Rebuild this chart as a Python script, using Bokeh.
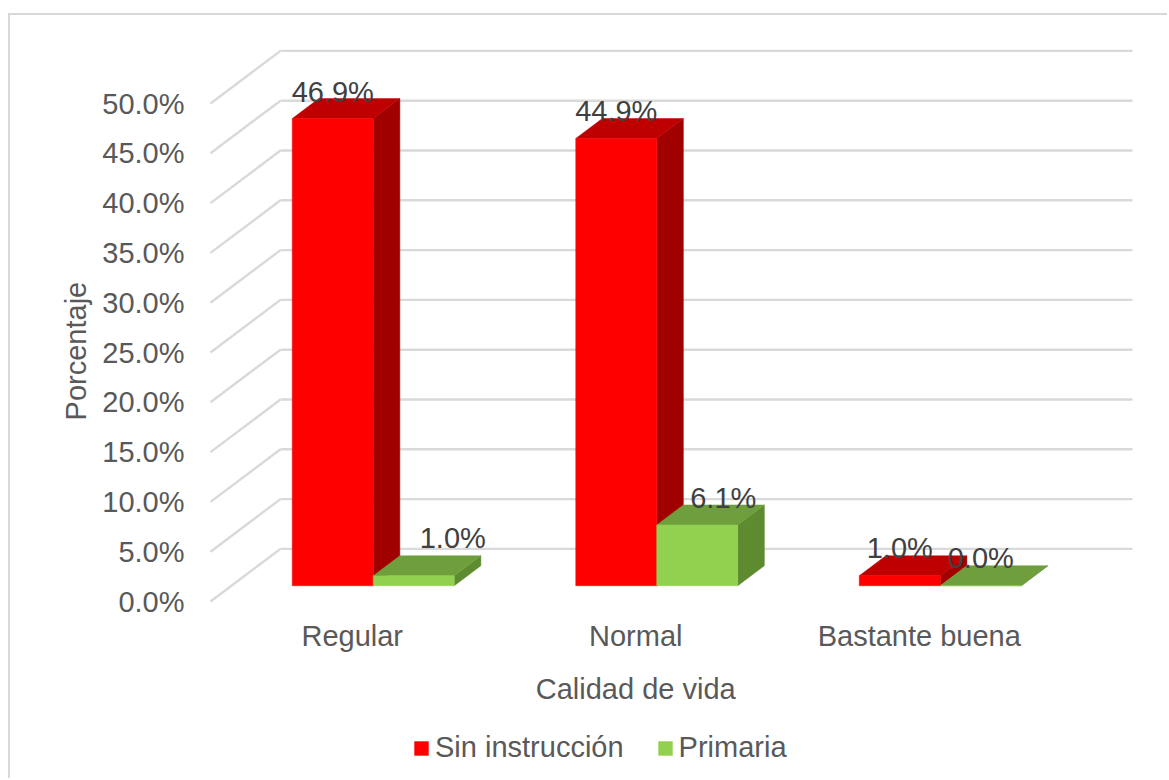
import math

from bokeh.core.properties import value
from bokeh.embed import file_html
from bokeh.layouts import column
from bokeh.models import (FixedTicker, Legend, LegendItem, LinearAxis,
                          PrintfTickFormatter, Range1d)
from bokeh.plotting import figure
from bokeh.resources import INLINE

# Values in percent, per quality-of-life category
categories = ["Regular", "Normal", "Bastante buena"]
series_names = ["Sin instrucción", "Primaria"]
sin_instruccion = [46.9, 44.9, 1.0]
primaria = [1.0, 6.1, 0.0]
y_ticks = [0, 5, 10, 15, 20, 25, 30, 35, 40, 45, 50]

FONT = "Liberation Sans"
SIZE = "29px"
GREY = "#595959"
LABEL_GREY = "#404040"
GRID = "#D9D9D9"
RED = "#FF0000"
GREEN = "#92D050"

# Scale of the plot, in pixels per unit
PX_CAT = 283.5
PX_PCT = 9.96

# Oblique projection: the depth axis runs up and to the right
WALL_DX, WALL_DY = 70 / PX_CAT, 52.6 / PX_PCT
BAR_WIDTH = 81 / PX_CAT
BAR_NEAR = 0.30
BAR_FAR = 0.68


def shift(depth):
    return WALL_DX * depth, WALL_DY * depth


def draw_series(p, values, left_of_centre, front, top, side):
    """Draw one series as oblique boxes; returns bar lefts and top heights."""
    nx, ny = shift(BAR_NEAR)
    fx, fy = shift(BAR_FAR)
    lefts = [i + 0.5 + nx + left_of_centre * BAR_WIDTH for i in range(len(values))]
    rights = [l + BAR_WIDTH for l in lefts]
    tops = [v + ny for v in values]
    bottoms = [ny] * len(values)
    ddx, ddy = fx - nx, fy - ny
    p.patches([[r, r + ddx, r + ddx, r] for r in rights],
              [[b, b + ddy, t + ddy, t] for b, t in zip(bottoms, tops)],
              fill_color=side, line_color=side, line_width=0.5)
    p.patches([[l, r, r + ddx, l + ddx] for l, r in zip(lefts, rights)],
              [[t, t, t + ddy, t + ddy] for t in tops],
              fill_color=top, line_color=top, line_width=0.5)
    p.quad(left=lefts, right=rights, bottom=bottoms, top=tops,
           fill_color=front, line_color=front, line_width=0.5)
    return lefts, tops


def style_axis(axis, standoff):
    axis.axis_line_color = None
    axis.major_tick_line_color = None
    axis.minor_tick_line_color = None
    axis.major_label_standoff = standoff
    axis.major_label_text_font = FONT
    axis.major_label_text_font_size = SIZE
    axis.major_label_text_color = GREY


p = figure(width=1159, height=700, frame_width=935, frame_height=572,
           output_backend="svg", toolbar_location=None,
           x_range=Range1d(-10 / PX_CAT, 925 / PX_CAT),
           y_range=Range1d(-11 / PX_PCT, 561 / PX_PCT),
           min_border_left=190, min_border_right=34, min_border_top=25, min_border_bottom=103,
           background_fill_color="white", border_fill_color="white",
           outline_line_color=None, margin=0)
p.xgrid.visible = False
p.ygrid.visible = False

# Value axis
p.yaxis.ticker = FixedTicker(ticks=y_ticks)
p.yaxis.formatter = PrintfTickFormatter(format="%.1f%%")
style_axis(p.yaxis[0], 10)

# Category axis
p.xaxis.ticker = FixedTicker(ticks=[i + 0.5 for i in range(len(categories))])
p.xaxis.major_label_overrides = {i + 0.5: c for i, c in enumerate(categories)}
style_axis(p.xaxis[0], 1)

# Axis titles, carried by outer axes with a single tick
title_x = 1.5
x_title = LinearAxis(ticker=FixedTicker(ticks=[title_x]),
                     major_label_overrides={title_x: "Calidad de vida"})
style_axis(x_title, 12)
p.add_layout(x_title, "below")

title_y = 32.1
y_title = LinearAxis(ticker=FixedTicker(ticks=[title_y]),
                     major_label_overrides={title_y: "Porcentaje"},
                     major_label_orientation=math.pi / 2)
style_axis(y_title, 17)
p.add_layout(y_title, "left")

# Wall gridlines: side wall diagonals, then the back wall
wall_right = 922 / PX_CAT
p.multi_line([[0, WALL_DX] for _ in y_ticks], [[t, t + WALL_DY] for t in y_ticks],
             line_color=GRID, line_width=2.4)
p.multi_line([[WALL_DX, wall_right] for _ in y_ticks], [[t + WALL_DY] * 2 for t in y_ticks],
             line_color=GRID, line_width=2.4)

# Bars
red_lefts, red_tops = draw_series(p, sin_instruccion, -1, RED, "#BE0000", "#A00000")
green_lefts, green_tops = draw_series(p, primaria, 0, GREEN, "#6F9F3C", "#5E8A30")

# Data labels sit above each front face, some nudged sideways off the box
xs = [l + BAR_WIDTH / 2 for l in red_lefts + green_lefts]
ys = red_tops + green_tops
texts = [f"{v:.1f}%" for v in sin_instruccion + primaria]
nudge_x = [0, 0, 0, 39, 26, 0]
nudge_y = [-27, -28, -28, -38, -27, -28]
p.text(xs, ys, text=texts, x_offset=nudge_x, y_offset=nudge_y,
       text_font=value(FONT), text_font_size=value(SIZE), text_color=LABEL_GREY,
       text_align="center", text_baseline="alphabetic")

# Legend strip under the chart; its key renderers lie beyond the visible range,
# so only their legend swatches show
strip = figure(width=1159, height=65, output_backend="svg", toolbar_location=None,
               x_axis_type=None, y_axis_type=None,
               x_range=Range1d(0, 1), y_range=Range1d(0, 1),
               min_border=0, outline_line_color=None, margin=0,
               background_fill_color="white", border_fill_color="white")
strip.xgrid.visible = False
strip.ygrid.visible = False
keys = [strip.quad(left=[2], right=[3], bottom=[2], top=[3], fill_color=c, line_color=None)
        for c in (RED, GREEN)]
legend = Legend(items=[LegendItem(label=n, renderers=[k]) for n, k in zip(series_names, keys)],
                orientation="horizontal", location=(212, 16),
                glyph_width=18, glyph_height=18, label_standoff=5, spacing=32,
                padding=0, margin=0, border_line_color=None, background_fill_alpha=0,
                label_text_font=FONT, label_text_font_size=SIZE, label_text_color=GREY)
strip.add_layout(legend, "center")

# The page edge cuts the chart frame, so only its top and left edges are drawn,
# as an offset shadow of the layout's box
page = column(p, strip, spacing=0, margin=(15, 0, 0, 10),
              styles={"box-shadow": f"-2px -2px 0 0 {GRID}"})

open("out.html", "w").write(file_html(page, INLINE))
